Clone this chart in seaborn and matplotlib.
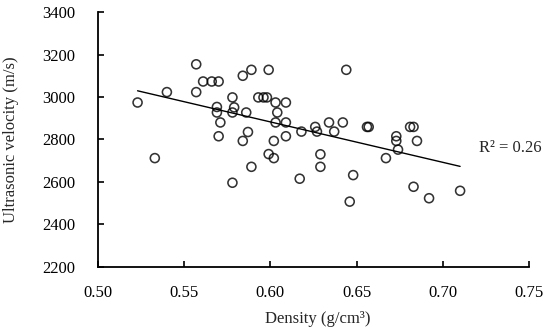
import matplotlib
matplotlib.use("Agg")
import matplotlib.pyplot as plt
import numpy as np
import pandas as pd
import seaborn as sns

# density (g/cm3) and ultrasonic velocity (m/s)
density = [
    0.523, 0.540, 0.533, 0.557, 0.557, 0.561, 0.566, 0.570, 0.584, 0.589,
    0.599, 0.569, 0.569, 0.571, 0.578, 0.579, 0.578, 0.586, 0.570, 0.587,
    0.584, 0.593, 0.596, 0.598, 0.603, 0.609, 0.604, 0.603, 0.609, 0.609,
    0.602, 0.618, 0.599, 0.602, 0.578, 0.589, 0.617, 0.644, 0.626, 0.627,
    0.634, 0.642, 0.637, 0.656, 0.657, 0.681, 0.683, 0.673, 0.673, 0.674,
    0.685, 0.629, 0.667, 0.629, 0.648, 0.646, 0.683, 0.692, 0.710,
]
velocity = [
    2974, 3023, 2712, 3154, 3023, 3073, 3073, 3073, 3100, 3128,
    3128, 2953, 2927, 2880, 2998, 2951, 2927, 2927, 2815, 2835,
    2793, 2998, 2998, 2998, 2974, 2974, 2927, 2880, 2880, 2815,
    2793, 2837, 2731, 2712, 2596, 2671, 2615, 3128, 2859, 2837,
    2880, 2880, 2837, 2859, 2859, 2859, 2859, 2815, 2793, 2752,
    2793, 2730, 2712, 2671, 2632, 2507, 2577, 2523, 2558,
]
x_ticks = [0.50, 0.55, 0.60, 0.65, 0.70, 0.75]
y_ticks = [2200, 2400, 2600, 2800, 3000, 3200, 3400]
r2_label = "R\u00b2 = 0.26"

df = pd.DataFrame({"density": density, "velocity": velocity})

sns.set_style("ticks")
plt.rcParams["font.family"] = ["Liberation Serif", "DejaVu Serif"]

fig = plt.figure(figsize=(5.5, 3.36), dpi=100)
ax = fig.add_axes([0.178, 0.206, 0.784, 0.758])

sns.regplot(
    data=df, x="density", y="velocity", ax=ax, ci=None, truncate=True,
    scatter_kws=dict(s=42, facecolors="none", edgecolors="black", linewidths=1.15),
    line_kws=dict(color="black", linewidth=1.0),
)

ax.text(0.721, 2761, r2_label, fontsize=12, va="center", ha="left")

ax.set_xlim(0.50, 0.75)
ax.set_ylim(2200, 3400)
ax.set_xticks(x_ticks)
ax.set_xticklabels([f"{v:.2f}" for v in x_ticks])
ax.set_yticks(y_ticks)
ax.set_xlabel("Density (g/cm\u00b3)", fontsize=12)
ax.set_ylabel("Ultrasonic velocity (m/s)", fontsize=12)
ax.xaxis.set_label_coords(0.51, -0.175)
ax.yaxis.set_label_coords(-0.183, 0.5)
ax.tick_params(direction="in", length=4, width=1.2, labelsize=12, colors="black")
ax.tick_params(axis="y", pad=16)
ax.tick_params(axis="x", pad=13)
for side in ["left", "bottom"]:
    ax.spines[side].set_linewidth(1.3)
    ax.spines[side].set_color("black")
sns.despine(ax=ax)

fig.savefig("out.png", dpi=100)
